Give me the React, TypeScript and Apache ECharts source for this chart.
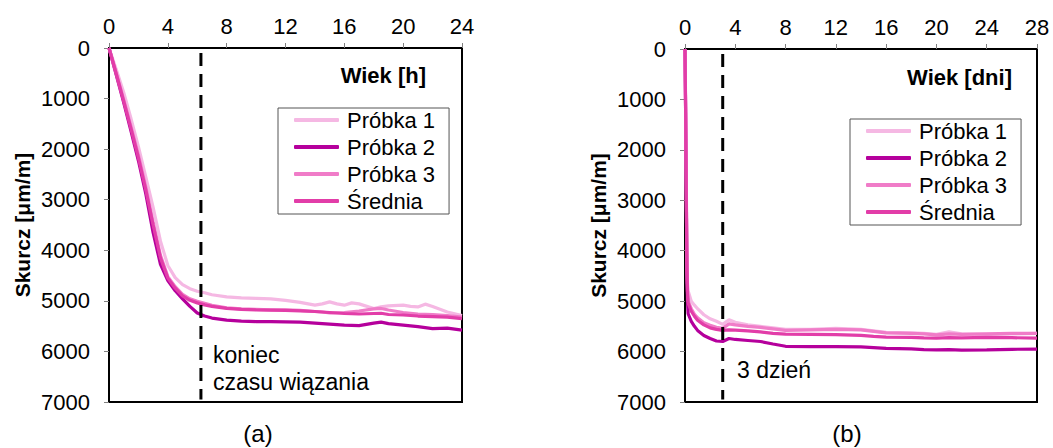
import React, { useEffect, useRef } from "react";
import * as echarts from "echarts";

// ---- Chart (a): age in hours ----
const hoursA = [0, 0.5, 1, 1.5, 2, 2.5, 3, 3.5, 4, 4.5, 5, 5.5, 6, 6.5, 7, 8, 9, 10, 11, 12, 13, 14, 14.5, 15, 15.5, 16, 16.5, 17, 18, 18.5, 19, 20, 20.5, 21, 21.5, 22, 23, 24];
const a_p1 = [0, 430, 880, 1400, 1950, 2550, 3150, 3820, 4300, 4540, 4680, 4760, 4810, 4840, 4880, 4920, 4940, 4950, 4960, 4990, 5030, 5085, 5060, 5020, 5060, 5085, 5040, 5060, 5150, 5120, 5100, 5085, 5110, 5120, 5065, 5110, 5220, 5290];
const a_p2 = [0, 540, 1080, 1650, 2230, 2880, 3650, 4280, 4600, 4800, 4960, 5110, 5240, 5300, 5340, 5380, 5400, 5410, 5410, 5415, 5420, 5440, 5450, 5460, 5470, 5480, 5485, 5490, 5440, 5420, 5450, 5480, 5495, 5510, 5530, 5550, 5540, 5580];
const a_p3 = [0, 500, 1020, 1560, 2120, 2750, 3450, 4100, 4520, 4720, 4870, 4960, 5010, 5050, 5090, 5140, 5160, 5170, 5180, 5180, 5190, 5210, 5220, 5240, 5235, 5230, 5215, 5200, 5160, 5150, 5180, 5230, 5245, 5260, 5265, 5270, 5290, 5320];
const a_avg = [0, 520, 1050, 1600, 2170, 2800, 3500, 4150, 4550, 4750, 4900, 4990, 5040, 5080, 5110, 5150, 5170, 5180, 5185, 5190, 5200, 5210, 5220, 5230, 5240, 5250, 5255, 5260, 5250, 5245, 5270, 5280, 5290, 5300, 5305, 5310, 5320, 5350];

// ---- Chart (b): age in days ----
const daysB = [0, 0.05, 0.1, 0.15, 0.2, 0.25, 0.5, 0.75, 1, 1.5, 2, 2.5, 3, 3.5, 4, 5, 6, 7, 8, 10, 12, 14, 15, 16, 18, 19, 20, 21, 22, 24, 26, 28];
const b_p1 = [0, 1050, 2500, 4000, 4650, 4800, 5000, 5080, 5150, 5270, 5350, 5400, 5460, 5370, 5420, 5470, 5500, 5530, 5560, 5560, 5540, 5560, 5590, 5620, 5630, 5640, 5660, 5610, 5650, 5660, 5650, 5640];
const b_p2 = [0, 1300, 2900, 4450, 5000, 5250, 5400, 5500, 5580, 5680, 5740, 5790, 5800, 5740, 5760, 5780, 5800, 5850, 5895, 5900, 5900, 5905, 5920, 5935, 5945, 5960, 5965, 5960, 5970, 5965, 5955, 5950];
const b_p3 = [0, 1200, 2700, 4200, 4800, 5000, 5150, 5260, 5330, 5430, 5480, 5520, 5540, 5450, 5470, 5500, 5520, 5550, 5580, 5570, 5560, 5570, 5600, 5630, 5640, 5650, 5670, 5650, 5660, 5650, 5640, 5640];
const b_avg = [0, 1250, 2800, 4300, 4850, 5040, 5200, 5300, 5380, 5470, 5530, 5560, 5580, 5570, 5575, 5590, 5610, 5640, 5655, 5660, 5665, 5680, 5700, 5713, 5720, 5730, 5733, 5725, 5730, 5720, 5725, 5733];

const seriesNames = ["Próbka 1", "Próbka 2", "Próbka 3", "Średnia"];
const seriesColors = ["#F5B8E3", "#B5009C", "#F07CC8", "#E23DA8"];
const yTicks = { min: 0, max: 7000, interval: 1000 };
const xTicksA = { min: 0, max: 24, interval: 4 };
const xTicksB = { min: 0, max: 28, interval: 4 };
const markerA = 6.25; // koniec czasu wiązania [h]
const markerB = 3; // 3 dzień

const FONT = "Liberation Sans, Arial, sans-serif";

function pairs(xs: number[], ys: number[]) {
  return xs.map((x, i) => [x, ys[i]]);
}

export default function App() {
  const ref = useRef<HTMLDivElement>(null);
  useEffect(() => {
    document.body.style.margin = "0";
    const chart = echarts.init(ref.current!, null, { renderer: "svg" });
    const xAxisBase = (idx: number, t: { min: number; max: number; interval: number }) => ({
      type: "value",
      gridIndex: idx,
      position: "top",
      min: t.min,
      max: t.max,
      interval: t.interval,
      axisLine: { show: false },
      axisTick: { show: true, inside: false, length: 5, lineStyle: { color: "#808080", width: 1 } },
      axisLabel: { color: "#000", fontSize: 22, fontFamily: FONT, margin: 11, formatter: (v: number) => String(v) },
      splitLine: { show: false },
    });
    const yAxisBase = (idx: number) => ({
      type: "value",
      gridIndex: idx,
      inverse: true,
      min: yTicks.min,
      max: yTicks.max,
      interval: yTicks.interval,
      name: "Skurcz [μm/m]",
      nameLocation: "middle",
      nameGap: 76,
      nameRotate: 90,
      nameTextStyle: { color: "#000", fontSize: 21, fontWeight: "bold", fontFamily: FONT },
      axisLine: { show: false },
      axisTick: { show: true, inside: false, length: 5, lineStyle: { color: "#808080", width: 1 } },
      axisLabel: { color: "#000", fontSize: 22, fontFamily: FONT, margin: 19, formatter: (v: number) => String(v) },
      splitLine: { show: false },
    });
    const dataA = [a_p1, a_p2, a_p3, a_avg];
    const dataB = [b_p1, b_p2, b_p3, b_avg];
    const series: any[] = [];
    dataA.forEach((d, i) =>
      series.push({
        type: "line",
        name: seriesNames[i],
        xAxisIndex: 0,
        yAxisIndex: 0,
        data: pairs(hoursA, d),
        showSymbol: false,
        symbol: "none",
        lineStyle: { color: seriesColors[i], width: 3.2 },
        itemStyle: { color: seriesColors[i] },
        z: 3 + i,
      })
    );
    dataB.forEach((d, i) =>
      series.push({
        type: "line",
        name: seriesNames[i],
        xAxisIndex: 1,
        yAxisIndex: 1,
        data: pairs(daysB, d),
        showSymbol: false,
        symbol: "none",
        lineStyle: { color: seriesColors[i], width: 3.2 },
        itemStyle: { color: seriesColors[i] },
        z: 3 + i,
      })
    );
    // dashed markers
    series.push({
      type: "line",
      name: "markerA",
      xAxisIndex: 0,
      yAxisIndex: 0,
      data: [[markerA, 100], [markerA, 6950]],
      showSymbol: false,
      symbol: "none",
      lineStyle: { color: "#000", width: 3, type: [13, 8] },
      z: 10,
    });
    series.push({
      type: "line",
      name: "markerB",
      xAxisIndex: 1,
      yAxisIndex: 1,
      data: [[markerB, 100], [markerB, 6950]],
      showSymbol: false,
      symbol: "none",
      lineStyle: { color: "#000", width: 3, type: [13, 8] },
      z: 10,
    });

    const legendBase = {
      orient: "vertical",
      data: seriesNames.map((n) => ({ name: n, icon: "roundRect" })),
      itemWidth: 45,
      itemHeight: 4,
      itemGap: 5,
      backgroundColor: "#fff",
      borderColor: "#555",
      borderWidth: 1,
      borderRadius: 0,
      selectedMode: false,
      textStyle: { color: "#000", fontSize: 22, fontFamily: FONT, lineHeight: 20, padding: [0, 0, 0, 3] },
    };

    chart.setOption({
      animation: false,
      backgroundColor: "#fff",
      grid: [
        { left: 109, top: 48, width: 353, height: 354, show: true, borderColor: "#000", borderWidth: 2, backgroundColor: "transparent" },
        { left: 685, top: 49, width: 352, height: 353, show: true, borderColor: "#000", borderWidth: 2, backgroundColor: "transparent" },
      ],
      xAxis: [xAxisBase(0, xTicksA), xAxisBase(1, xTicksB)],
      yAxis: [yAxisBase(0), yAxisBase(1)],
      legend: [
        { ...legendBase, left: 278, top: 108, padding: [1, 14, 2, 16] },
        { ...legendBase, left: 850, top: 119, padding: [1, 14, 2, 16] },
      ],
      series,
      graphic: [
        { type: "text", right: 1053 - 426, top: 64, style: { text: "Wiek [h]", fill: "#000", font: `bold 22px ${FONT}` } },
        { type: "text", right: 1053 - 1012, top: 66, style: { text: "Wiek [dni]", fill: "#000", font: `bold 22px ${FONT}` } },
        { type: "text", left: 213, top: 343, style: { text: "koniec", fill: "#000", font: `23px ${FONT}` } },
        { type: "text", left: 213, top: 370, style: { text: "czasu wiązania", fill: "#000", font: `23px ${FONT}` } },
        { type: "text", left: 737, top: 358, style: { text: "3 dzień", fill: "#000", font: `23px ${FONT}` } },
        { type: "text", x: 258, y: 433, style: { text: "(a)", fill: "#000", font: `24px ${FONT}`, align: "center", verticalAlign: "middle" } },
        { type: "text", x: 847, y: 433, style: { text: "(b)", fill: "#000", font: `24px ${FONT}`, align: "center", verticalAlign: "middle" } },
      ],
    });
    return () => chart.dispose();
  }, []);
  return <div ref={ref} style={{ position: "fixed", left: 0, top: 0, width: 1053, height: 448 }} />;
}
